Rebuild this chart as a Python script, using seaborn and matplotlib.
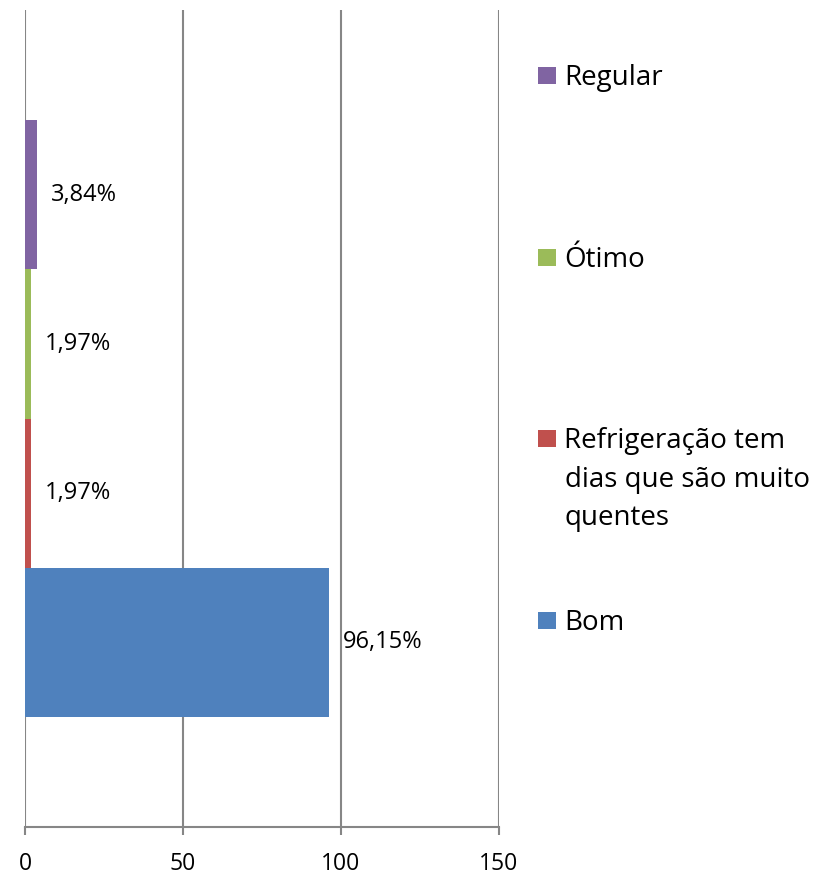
import matplotlib
matplotlib.use("Agg")
import matplotlib.pyplot as plt
import seaborn as sns
import pandas as pd

# ---- data ----
series = ["Regular", "Ótimo", "Refrigeração tem dias que são muito quentes", "Bom"]
values = [3.84, 1.97, 1.97, 96.15]
value_labels = ["3,84%", "1,97%", "1,97%", "96,15%"]
colors = ["#8064A2", "#9BBB59", "#C0504D", "#4F81BD"]
legend_lines = [["Regular"], ["Ótimo"], ["Refrigeração tem", "dias que são muito", "quentes"], ["Bom"]]
xticks = [0, 50, 100, 150]

sns.set_theme(style="white")
plt.rcParams["font.family"] = ["Open Sans", "DejaVu Sans"]
plt.rcParams["text.color"] = "black"

df = pd.DataFrame({"grupo": [""] * len(series), "serie": series, "valor": values})

fig = plt.figure(figsize=(8.24, 8.75), dpi=100)
ax = fig.add_axes([25 / 824, 1 - 827 / 875, (499 - 25) / 824, (827 - 10) / 875])

sns.barplot(data=df, x="valor", y="grupo", hue="serie", hue_order=series,
            palette=colors, orient="h", width=0.73, dodge=True, saturation=1,
            linewidth=0, ax=ax, legend=True)

handles, labels = ax.get_legend_handles_labels()
if ax.get_legend() is not None:
    ax.get_legend().remove()

for cont, lab in zip(ax.containers, value_labels):
    ax.bar_label(cont, labels=[lab], padding=10, fontsize=17, color="black")

grid_c = "#868686"
ax.set_xlim(0, 150)
ax.set_ylim(0.5, -0.5)
ax.set_xticks(xticks)
ax.set_xticklabels([str(t) for t in xticks])
ax.set_yticks([])
ax.set_xlabel("")
ax.set_ylabel("")
ax.xaxis.grid(True, color=grid_c, linewidth=1.5)
ax.set_axisbelow(True)
for s in ["top", "right", "left"]:
    ax.spines[s].set_visible(False)
ax.spines["bottom"].set_color(grid_c)
ax.spines["bottom"].set_linewidth(1.5)
ax.tick_params(axis="x", bottom=True, length=6, width=1.5, color=grid_c,
               pad=12, labelsize=16.5, labelcolor="black")

# legend: one entry per series at Excel-like positions
leg_y = [78, 260, 441, 623]
fs = 20
for h, lines, y in zip(handles, legend_lines, leg_y):
    lg = fig.legend([h], [lines[0]], loc="center left",
                    bbox_to_anchor=(538 / 824, 1 - y / 875),
                    bbox_transform=fig.transFigure, frameon=False,
                    borderpad=0, borderaxespad=0, handlelength=0.65,
                    handleheight=0.55, handletextpad=0.3, fontsize=fs,
                    labelcolor="black")
    for k, extra in enumerate(lines[1:], start=1):
        fig.text(565 / 824, 1 - (y + 38.5 * k) / 875, extra, fontsize=fs,
                 va="center", ha="left", color="black")

fig.savefig("out.png", dpi=100)
